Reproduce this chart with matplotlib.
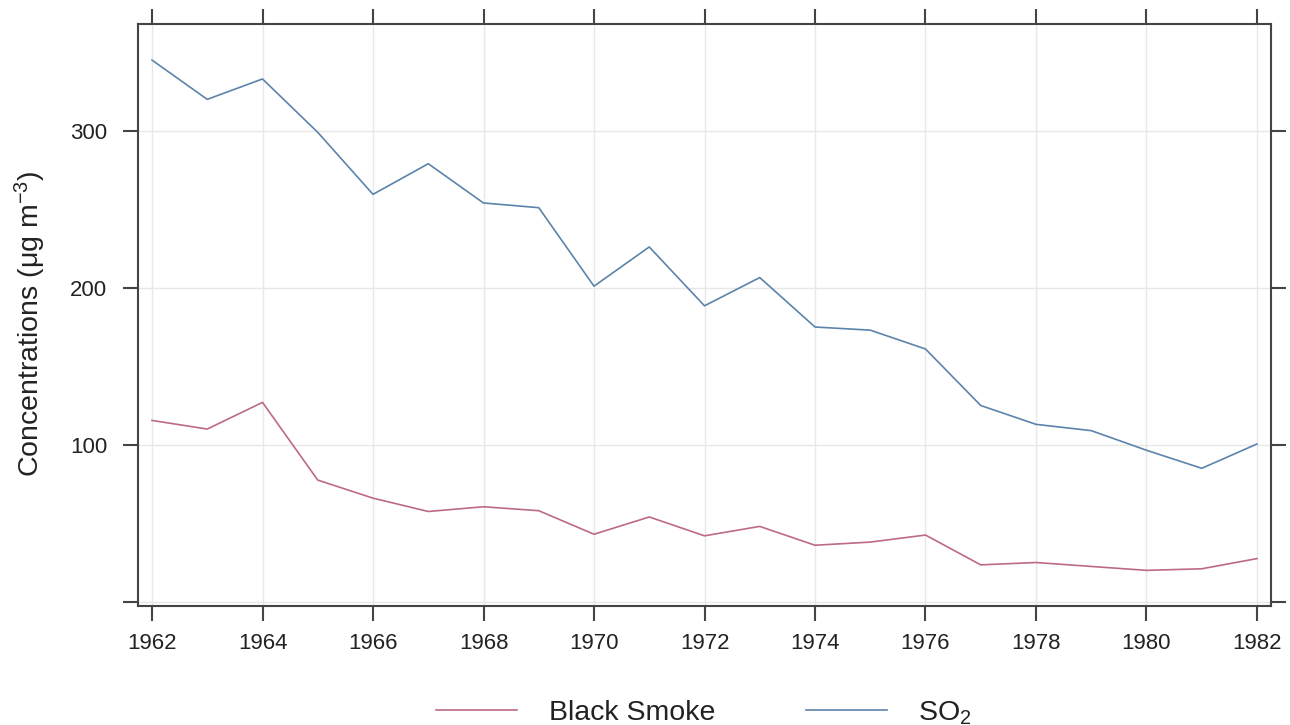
import matplotlib
matplotlib.use("Agg")
import matplotlib.pyplot as plt
from matplotlib.lines import Line2D

plt.rcParams['font.family'] = ['Liberation Sans', 'DejaVu Sans']
plt.rcParams['mathtext.fontset'] = 'custom'
plt.rcParams['mathtext.rm'] = 'Liberation Sans'
plt.rcParams['mathtext.it'] = 'Liberation Sans'

years = list(range(1962, 1983))
so2 = [345, 320, 333, 299, 259.5, 279, 254, 251, 201, 226, 188.5, 206.5,
       175, 173, 161, 125, 113, 109, 96.5, 85, 100.5]
smoke = [115.5, 110, 127, 77.5, 66, 57.5, 60.5, 58, 43, 54, 42, 48,
         36, 38, 42.5, 23.5, 25, 22.5, 20, 21, 27.5]
xticks = list(range(1962, 1983, 2))
yticks = [0, 100, 200, 300]
ytick_labels = ["", "100", "200", "300"]

smoke_col = "#bd6a84"
so2_col = "#5c84ab"
frame_col = "#444444"

fig = plt.figure(figsize=(12.9, 7.25), dpi=100)
ax = fig.add_axes([138.3/1290, 1-606/725, (1270.7-138.3)/1290, (606-24)/725])

ax.plot(years, smoke, color=smoke_col, lw=1.2)
ax.plot(years, so2, color=so2_col, lw=1.2)

ax.set_xlim(1961.752, 1982.248)
ax.set_ylim(-2.7, 368)
ax.set_xticks(xticks)
ax.set_yticks(yticks)
ax.set_yticklabels(ytick_labels)
ax.grid(True, color="#e8e8e8", lw=1.0)
ax.set_axisbelow(True)

for s in ax.spines.values():
    s.set_color(frame_col)
    s.set_linewidth(1.5)

ax.tick_params(axis='both', which='both', direction='out', length=10.5, width=1.5,
               color=frame_col, labelsize=16, labelcolor="#222222",
               top=True, right=True, labeltop=False, labelright=False)
ax.tick_params(axis='x', pad=9)
ax.tick_params(axis='y', pad=12)

ax.set_ylabel("Concentrations (μg m$^{-3}$)", fontsize=20.5, color="#222222")
ax.yaxis.set_label_coords((48 - 138.3) / 1132.4, (606 - 324) / 582)

handles = [Line2D([], [], color=smoke_col, lw=1.2),
           Line2D([], [], color=so2_col, lw=1.2)]
fig.legend(handles, ["Black Smoke", "SO$_2$"], ncol=2, loc='center',
           bbox_to_anchor=(704/1290, 1-713/725), frameon=False, fontsize=20.5,
           handlelength=2.85, handletextpad=1.1, columnspacing=3.2,
           labelcolor="#222222")

fig.savefig("out.png", dpi=100)
